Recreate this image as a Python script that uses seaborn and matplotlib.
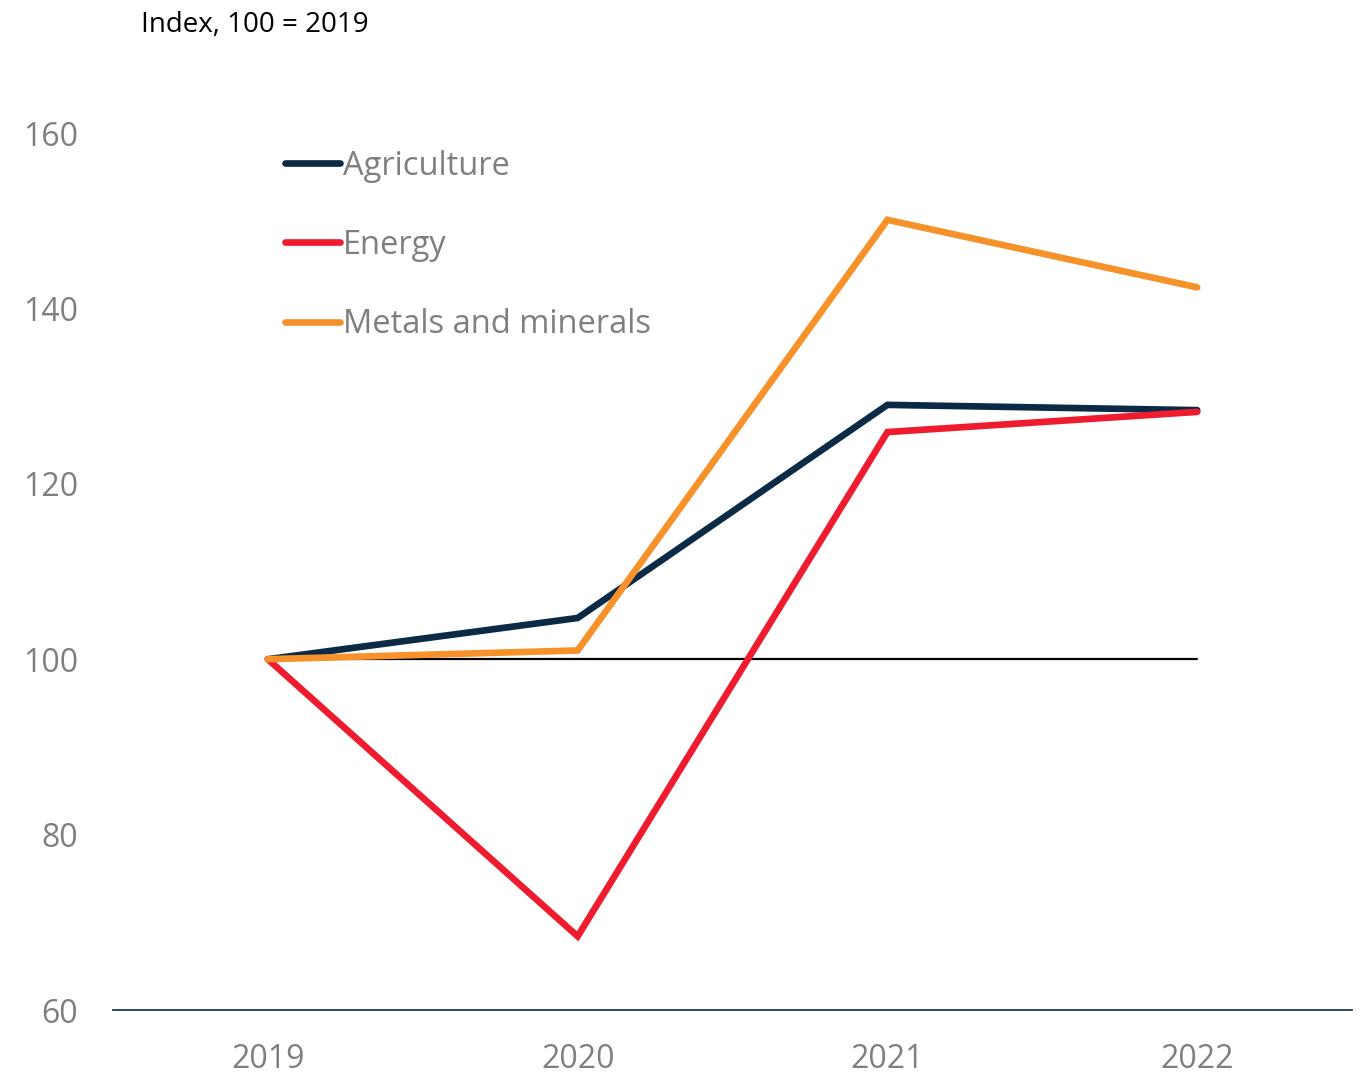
import matplotlib
matplotlib.use("Agg")
import matplotlib.pyplot as plt
import seaborn as sns
import pandas as pd

years = [2019, 2020, 2021, 2022]
agriculture = [100.0, 104.7, 129.0, 128.4]
energy = [100.0, 68.4, 125.9, 128.2]
metals = [100.0, 101.0, 150.1, 142.4]
baseline = [100, 100, 100, 100]
series_names = ["Agriculture", "Energy", "Metals and minerals"]
colors = ["#0B2A45", "#EE1C2E", "#F7922A"]
y_ticks = [60, 80, 100, 120, 140, 160]

df = pd.DataFrame({
    "year": years * 3,
    "value": agriculture + energy + metals,
    "series": [s for s in series_names for _ in years],
})

sns.set_style("white")
plt.rcParams["font.family"] = ["Open Sans", "DejaVu Sans"]

fig = plt.figure(figsize=(13.63, 10.77), dpi=100)
ax = fig.add_axes([0.0829, 0.0622, 0.9091, 0.8143])

ax.plot(years, baseline, color="black", lw=1.6, solid_capstyle="round", zorder=1)
sns.lineplot(data=df, x="year", y="value", hue="series", palette=colors,
             hue_order=series_names, lw=4.8, ax=ax, legend=True, zorder=3)
for l in ax.lines:
    l.set_solid_capstyle("round")
    l.set_solid_joinstyle("miter")

ax.set_xlim(2018.5, 2022.5)
ax.set_ylim(60, 160)
ax.set_xticks(years)
ax.set_xticklabels([str(y) for y in years])
ax.set_yticks(y_ticks)
ax.tick_params(axis="both", length=0, labelsize=23, labelcolor="#7F7F7F")
ax.tick_params(axis="x", pad=24)
ax.tick_params(axis="y", pad=25)
ax.set_xlabel("")
ax.set_ylabel("")
for s in ["top", "right", "left"]:
    ax.spines[s].set_visible(False)
ax.spines["bottom"].set_color("#1F3C5A")
ax.spines["bottom"].set_linewidth(1.3)

leg = ax.legend(loc="upper left", bbox_to_anchor=(0.1285, 0.996), frameon=False,
                fontsize=23.5, handlelength=1.69, handletextpad=0.09,
                labelspacing=1.42, borderaxespad=0)
for t in leg.get_texts():
    t.set_color("#7F7F7F")
for h in leg.legend_handles:
    h.set_linewidth(4.8)
    h.set_solid_capstyle("round")

fig.text(0.1035, 0.977, "Index, 100 = 2019", fontsize=20, color="black",
         ha="left", va="center")

fig.savefig("out.png", dpi=100)
